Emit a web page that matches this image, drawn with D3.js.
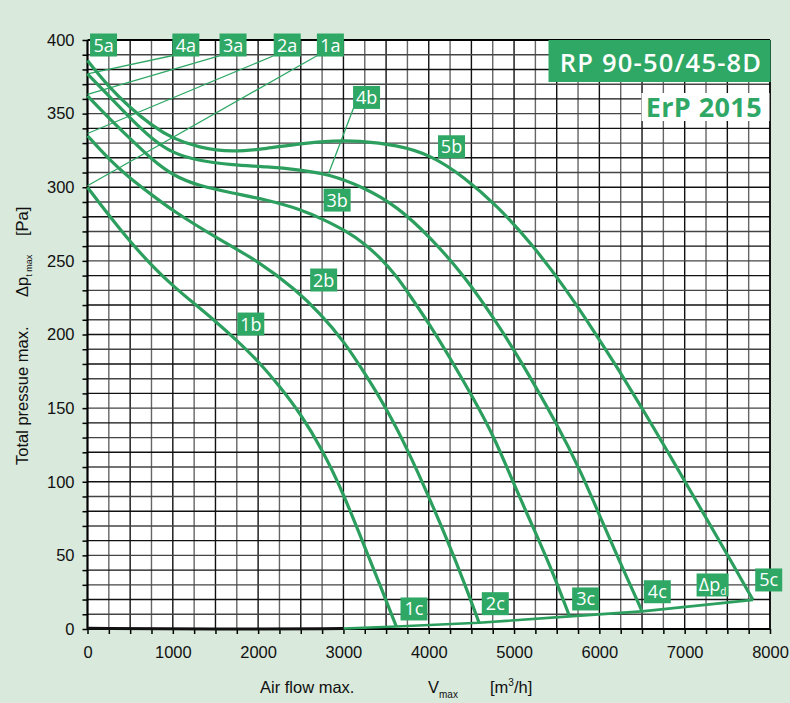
<!DOCTYPE html>
<html><head><meta charset="utf-8">
<script src="https://cdn.jsdelivr.net/npm/d3@7/dist/d3.min.js"></script>
<style>
html,body{margin:0;padding:0;background:#d9e9dc;}
svg{display:block;}
</style></head><body>
<svg id="chart" width="790" height="703"></svg>
<script>
// ---------- data ----------
const flowTicks = [0,1000,2000,3000,4000,5000,6000,7000,8000];
const pressureTicks = [0,50,100,150,200,250,300,350,400];

const curve1 = [[0,300],[250,281],[500,263],[750,247],[1000,233],[1250,221],[1500,209],[1750,196],[2000,182],[2250,165],[2500,146],[2750,122],[3000,92],[3240,57],[3435,29],[3620,1.7]];
const curve2 = [[0,335],[250,319],[500,306],[750,295],[1000,284],[1500,266],[2000,250],[2450,230],[2730,214],[3000,196],[3280,171],[3520,148],[3750,122],[3985,92],[4220,60],[4420,31],[4590,4.2]];
const curve3 = [[0,362],[250,347],[500,333],[750,319],[1000,308],[1300,301],[1700,296],[2100,291.5],[2500,285],[2770,278],[3040,270],[3240,262],[3435,252],[3630,239],[3750,229],[4020,206],[4260,183],[4530,156],[4770,130],[5000,98],[5240,67],[5475,35.5],[5650,8.6]];
const curve4 = [[0,377],[250,362],[500,347],[750,333],[1000,323],[1300,318],[1700,315],[2100,314],[2500,311.7],[2820,309],[3240,300],[3630,287],[4020,266],[4415,240],[4810,207],[5080,182],[5515,138],[5790,106],[6025,74],[6260,43],[6500,12]];
const curve5 = [[0,386],[250,368],[500,354],[750,342],[1000,333],[1300,327],[1700,323.7],[2100,326.3],[2500,329.8],[2900,331.6],[3160,331.7],[3630,328.7],[4020,322],[4415,307],[4810,287],[5200,262],[5590,232.5],[5985,198],[6220,176.5],[6495,150.5],[6770,123.5],[7005,100],[7280,72.5],[7515,49],[7800,19.8]];
const dynPressure = [[3000,0.3],[3620,1.7],[4590,4.2],[5650,8.6],[6500,12],[7800,19.8]];
const dynPressureLow = [[0,0.5],[1500,-0.3],[3000,0.3]];

const labelNames = ["5a","4a","3a","2a","1a","4b","3b","5b","2b","1b","1c","2c","3c","4c","Δpd","5c"];
const labelFlow = [188,1153,1706,2341,2847,3271,2926,4267,2768,1914,3827,4780,5839,6679,7327,7985];
const labelPressure = [396.6,396.6,396.6,396.6,396.6,361,291.3,327.5,237,207.1,13.6,17.2,20.4,25.3,29.9,33.3];

// leader lines: from curve point to label
const leaderLabels = ["4a","3a","2a","1a","4b"];
const leaderFlow = [0,0,0,0,2826];
const leaderPressure = [377,363,336.5,301,309.4];

const titleText = "RP 90-50/45-8D";
const subTitleText = "ErP 2015";

// ---------- drawing ----------
const green = "#2fa866";
const lineGreen = "#2c9f5f";
const svg = d3.select("#chart");
const x = d3.scaleLinear().domain([0,8000]).range([87.5,770]);
const y = d3.scaleLinear().domain([0,400]).range([629,40]);

svg.append("rect").attr("x",0).attr("y",0).attr("width",790).attr("height",703).attr("fill","#d9e9dc");
svg.append("rect").attr("x",x(0)).attr("y",y(400)).attr("width",x(8000)-x(0)).attr("height",y(0)-y(400)).attr("fill","#fff");

// grid
const g = svg.append("g");
g.selectAll("line.v").data(d3.range(250,8000,250)).join("line")
  .attr("x1",d=>x(d)).attr("x2",d=>x(d)).attr("y1",y(0)).attr("y2",y(400))
  .attr("stroke",(d,i)=> i%2===0 ? "#666" : "#111").attr("stroke-width",1.4);
g.selectAll("line.h").data(d3.range(10,400,10)).join("line")
  .attr("y1",d=>y(d)).attr("y2",d=>y(d)).attr("x1",x(0)).attr("x2",x(8000))
  .attr("stroke",(d,i)=> i%2===0 ? "#444" : "#111").attr("stroke-width",1.4);

// axes
const fontTick = "'Liberation Sans', Arial, sans-serif";
const yAxis = d3.axisLeft(y).tickValues(d3.range(0,401,10)).tickSize(5).tickPadding(8)
  .tickFormat(d => pressureTicks.includes(d) ? d : "");
const xAxis = d3.axisBottom(x).tickValues(d3.range(0,8001,250)).tickSize(5).tickPadding(12)
  .tickFormat(d => flowTicks.includes(d) ? d : "");
const ya = svg.append("g").attr("transform",`translate(${x(0)},0)`).call(yAxis);
const xa = svg.append("g").attr("transform",`translate(0,${y(0)})`).call(xAxis);
[ya,xa].forEach(a=>{
  a.selectAll("path.domain").remove();
  a.selectAll(".tick line").attr("stroke","#000").attr("stroke-width",1.5);
  a.selectAll("text").attr("fill","#111").style("font-family",fontTick).style("font-size","16.5px");
});
xa.selectAll("text").attr("dy","0.71em");

// frame
svg.append("line").attr("x1",x(0)).attr("x2",x(8000)).attr("y1",y(400)).attr("y2",y(400)).attr("stroke","#000").attr("stroke-width",1.8);
svg.append("line").attr("x1",x(8000)).attr("x2",x(8000)).attr("y1",y(400)).attr("y2",y(0)).attr("stroke","#000").attr("stroke-width",1.8);
svg.append("line").attr("x1",x(0)).attr("x2",x(0)).attr("y1",y(400)).attr("y2",y(0)+1).attr("stroke","#000").attr("stroke-width",2.2);
svg.append("line").attr("x1",x(0)).attr("x2",x(8000)).attr("y1",y(0)).attr("y2",y(0)).attr("stroke","#000").attr("stroke-width",2.2);

// leader lines
const lab = labelNames.map((n,i)=>({name:n, flow:labelFlow[i], p:labelPressure[i]}));
const boxW = n => n==="Δpd" ? 32 : 27;
const boxH = 23;
leaderLabels.forEach((n,i)=>{
  const l = lab.find(d=>d.name===n);
  svg.append("line")
    .attr("x1",x(leaderFlow[i])).attr("y1",y(leaderPressure[i]))
    .attr("x2",x(l.flow)-boxW(n)/2+0.5).attr("y2",y(l.p)+boxH/2-1)
    .attr("stroke",green).attr("stroke-width",1.3);
});

// curves
const line = d3.line().x(d=>x(d[0])).y(d=>y(d[1])).curve(d3.curveBasis);
[curve1,curve2,curve3,curve4,curve5].forEach(c=>{
  svg.append("path").attr("d",line(c)).attr("fill","none").attr("stroke",lineGreen).attr("stroke-width",3.2).attr("stroke-linejoin","round");
});
svg.append("path").attr("d",d3.line().x(d=>x(d[0])).y(d=>y(d[1]))(dynPressure)).attr("fill","none").attr("stroke",lineGreen).attr("stroke-width",2.6);
svg.append("path").attr("d",line(dynPressureLow)).attr("fill","none").attr("stroke","#111").attr("stroke-width",3);

// labels
const fontLab = "'Open Sans', 'Noto Sans', sans-serif";
const lg = svg.append("g").selectAll("g").data(lab).join("g")
  .attr("transform",d=>`translate(${x(d.flow)},${y(d.p)})`);
lg.append("rect").attr("x",d=>-boxW(d.name)/2).attr("y",-boxH/2).attr("width",d=>boxW(d.name)).attr("height",boxH).attr("fill",green);
lg.each(function(d){
  const t = d3.select(this).append("text").attr("text-anchor","middle").attr("y",6.5)
    .attr("fill","#fff").style("font-family",fontLab).style("font-size","18px");
  if (d.name==="Δpd"){
    t.append("tspan").text("Δp");
    t.append("tspan").text("d").style("font-size","10px").attr("dy",4);
  } else t.text(d.name);
});

// title boxes
svg.append("rect").attr("x",548.5).attr("y",40).attr("width",222).attr("height",42).attr("fill",green);
svg.append("text").attr("x",661).attr("y",71.5).attr("text-anchor","middle").attr("fill","#fff")
  .style("font-family",fontLab).style("font-weight","600").style("font-size","25.5px").style("letter-spacing","1.2px").text(titleText);
svg.append("rect").attr("x",641.5).attr("y",93).attr("width",128).attr("height",28).attr("fill","#fff");
svg.append("text").attr("x",762).attr("y",116.5).attr("text-anchor","end").attr("fill",green)
  .style("font-family",fontLab).style("font-weight","700").style("font-size","27px").style("letter-spacing","0.4px").text(subTitleText);

// axis titles
const at = (s)=> s.style("font-family",fontTick).style("font-size","16.5px").attr("fill","#111");
at(svg.append("text").attr("x",260).attr("y",693).text("Air flow max."));
const vt = at(svg.append("text").attr("x",428).attr("y",693));
vt.append("tspan").text("V");
vt.append("tspan").text("max").style("font-size","10px").attr("dy",5);
const ut = at(svg.append("text").attr("x",490).attr("y",693));
ut.append("tspan").text("[m");
ut.append("tspan").text("3").style("font-size","10px").attr("dy",-7);
ut.append("tspan").text("/h]").attr("dy",7);

const yt = svg.append("g").attr("transform","translate(28,0) rotate(-90)");
at(yt.append("text").attr("x",-465).attr("y",0).text("Total pressue max."));
const dp = at(yt.append("text").attr("x",-297).attr("y",0));
dp.append("tspan").text("Δp");
dp.append("tspan").text("t max").style("font-size","9px").attr("dy",4);
at(yt.append("text").attr("x",-236).attr("y",0).text("[Pa]"));
</script>
</body></html>
